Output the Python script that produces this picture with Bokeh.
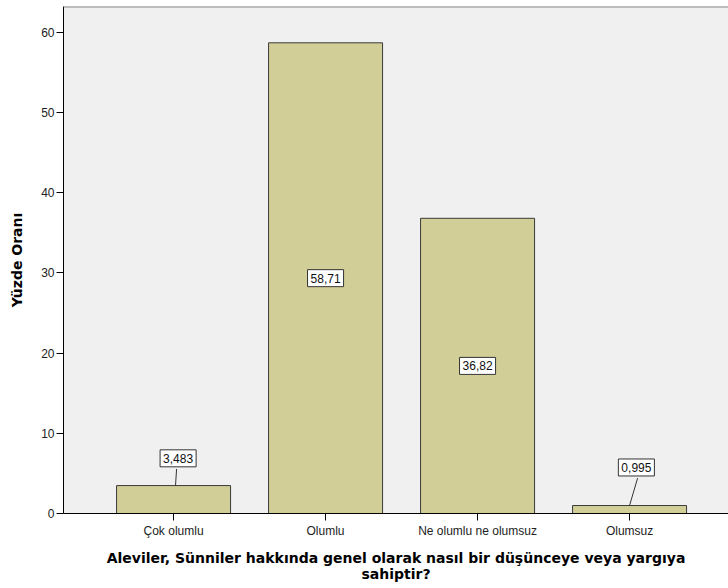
from bokeh.plotting import figure
from bokeh.models import ColumnDataSource, Range1d, FixedTicker, Span
from bokeh.core.properties import value
from bokeh.embed import file_html
from bokeh.resources import INLINE

categories = ["Çok olumlu", "Olumlu", "Ne olumlu ne olumsuz", "Olumsuz"]
values = [3.483, 58.71, 36.82, 0.995]
y_ticks = [0, 10, 20, 30, 40, 50, 60]
x_title = "Aleviler, Sünniler hakkında genel olarak nasıl bir düşünceye veya yargıya\nsahiptir?"
y_title = "Yüzde Oranı"

FONT = "Liberation Sans"
TITLE_FONT = "DejaVu Sans"
idx = list(range(len(categories)))
labels = ["{:.4g}".format(v).replace(".", ",") for v in values]

lab_x, lab_y, seg_x0, seg_y0, seg_x1, seg_y1 = [], [], [], [], [], []
for i, v in zip(idx, values):
    if v > 10:
        lab_x.append(i)
        lab_y.append(v / 2)
    else:
        off = 0.03 if v > 2 else 0.045
        lx = i + off
        ly = max(v + 3.4, 5.74)
        lab_x.append(lx)
        lab_y.append(ly)
        seg_x0.append(i + (0.013 if v > 2 else 0.0))
        seg_y0.append(v)
        seg_x1.append(i + (0.02 if v > 2 else 0.053))
        seg_y1.append(ly - 1.33)

src = ColumnDataSource(dict(x=idx, top=values))
lab_src = ColumnDataSource(dict(x=lab_x, y=lab_y, text=labels))

p = figure(width=728, height=588, output_backend="svg", toolbar_location=None,
           x_range=Range1d(-0.724, 3.651), y_range=Range1d(0, 63.24),
           min_border_left=63, min_border_right=0, min_border_top=6, min_border_bottom=75)
p.background_fill_color = "#f0f0f0"
p.border_fill_color = "white"
p.outline_line_color = None
p.xgrid.visible = False
p.ygrid.visible = False

p.vbar(x="x", top="top", width=0.75, source=src, fill_color="#d2ce98",
       line_color="#3a3a3a", line_width=1)

p.segment(x0=seg_x0, y0=seg_y0, x1=seg_x1, y1=seg_y1, line_color="#333333", line_width=1)

p.text(x="x", y="y", text="text", source=lab_src, text_align="center",
       text_baseline="middle", text_font=value(FONT), text_font_size="12px",
       text_color="#111111", background_fill_color="white",
       border_line_color="#333333", border_line_width=1,
       padding=dict(left=3, right=3, top=4, bottom=4))

p.add_layout(Span(location=63.24, dimension="width", line_color="#888888", line_width=2))

xa = p.xaxis[0]
xa.ticker = FixedTicker(ticks=idx)
xa.major_label_overrides = {i: c for i, c in zip(idx, categories)}
xa.minor_tick_line_color = None
xa.major_tick_in = 0
xa.major_tick_out = 7
xa.axis_line_color = "black"
xa.major_tick_line_color = "black"
xa.major_label_text_font = FONT
xa.major_label_text_font_size = "12px"
xa.major_label_text_color = "#222222"
xa.major_label_standoff = 3
xa.axis_label = x_title
xa.axis_label_text_font = TITLE_FONT
xa.axis_label_text_font_size = "14px"
xa.axis_label_text_font_style = "bold"
xa.axis_label_text_color = "black"
xa.axis_label_text_line_height = 1.0
xa.axis_label_standoff = 9

ya = p.yaxis[0]
ya.ticker = FixedTicker(ticks=y_ticks)
ya.minor_tick_line_color = None
ya.major_tick_in = 0
ya.major_tick_out = 7
ya.axis_line_color = "black"
ya.major_tick_line_color = "black"
ya.major_label_text_font = FONT
ya.major_label_text_font_size = "12px"
ya.major_label_text_color = "#222222"
ya.major_label_standoff = 2
ya.axis_label = y_title
ya.axis_label_text_font = TITLE_FONT
ya.axis_label_text_font_size = "14px"
ya.axis_label_text_font_style = "bold"
ya.axis_label_text_color = "black"
ya.axis_label_standoff = 13

open("out.html", "w").write(file_html(p, INLINE))
